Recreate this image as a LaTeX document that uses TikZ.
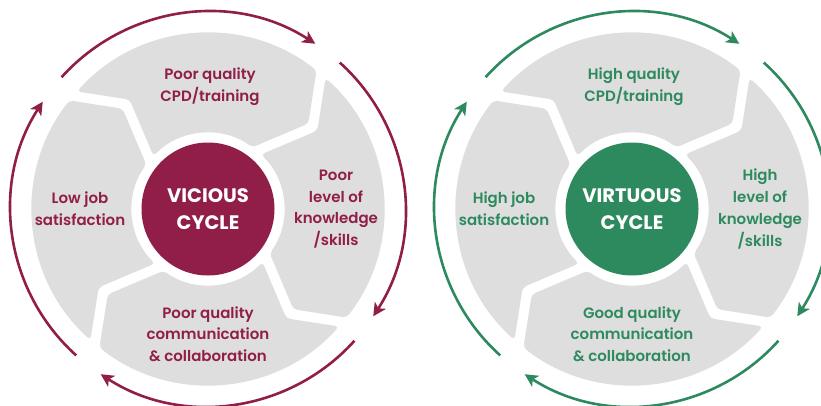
\documentclass[tikz,border=0pt]{standalone}
\usepackage{fontspec}
\setmainfont{Poppins}
\newfontfamily\labelfont{Poppins SemiBold}
\usetikzlibrary{arrows.meta}

\definecolor{vicious}{HTML}{911E48}
\definecolor{virtuous}{HTML}{2D8A5E}
\definecolor{ringgray}{HTML}{DEDEDE}

% One grey chevron of the ring, drawn around the origin.
% #1 = angle of the gap at its counter-clockwise end.
\newcommand\ringpart[1]{%
  \fill[ringgray, rounded corners=4pt]
    ({#1-1.9}:176pt) arc[start angle={#1-1.9}, end angle={#1-88.1}, radius=176pt]
    -- ({#1-99.58}:131.7pt) -- ({#1-85.7}:76pt)
    arc[start angle={#1-85.7}, end angle={#1-4.2}, radius=76pt]
    -- ({#1-14.37}:134.5pt) -- cycle;
}

% One arrow of the outer ring; #1 = start angle.
\newcommand\ringarrow[1]{%
  \draw[cyclearrow] ({#1}:197pt) arc[start angle={#1}, end angle={#1-81}, radius=197pt];
}

\tikzset{
  hub/.style={circle, inner sep=0pt, minimum size=133pt, text=white,
    align=center, font=\bfseries\fontsize{19.5}{26.7}\selectfont},
  lab/.style={align=center, inner sep=0pt, font=\labelfont\fontsize{15}{21.7}\selectfont},
  cyclearrow/.style={line width=2.6pt,
    -{Stealth[length=13pt, width=13pt, inset=3.5pt]}},
}

\begin{document}
\begin{tikzpicture}[x=1pt, y=1pt]
\useasboundingbox (0,0) rectangle (821,405);
\clip (0,0) rectangle (821,405);

% ---------- vicious cycle ----------
\node[hub, fill=vicious] (vc) at (208,196) {VICIOUS\\CYCLE};
\begin{scope}[shift={(vc.center)}]
  \foreach \g in {140,50,-40,-130} {\ringpart{\g}}
  \begin{scope}[vicious]
    \foreach \s in {138,48,-42,-132} {\ringarrow{\s}}
  \end{scope}
  \node[lab, text=vicious] (v1) at (2,122) {Poor quality\\CPD/training};
  \node[lab, text=vicious] (v2) at (128,0) {Poor\\level of\\knowledge\\/skills};
  \node[lab, text=vicious] (v3) at (0,-125) {Poor quality\\communication\\\& collaboration};
  \node[lab, text=vicious] (v4) at (-128,0) {Low job\\satisfaction};
\end{scope}

% ---------- virtuous cycle ----------
\node[hub, fill=virtuous] (gc) at (632,196) {VIRTUOUS\\CYCLE};
\begin{scope}[shift={(gc.center)}]
  \foreach \g in {140,50,-40,-130} {\ringpart{\g}}
  \begin{scope}[virtuous]
    \foreach \s in {138,48,-42,-132} {\ringarrow{\s}}
  \end{scope}
  \node[lab, text=virtuous] (g1) at (2,122) {High quality\\CPD/training};
  \node[lab, text=virtuous] (g2) at (128,0) {High\\level of\\knowledge\\/skills};
  \node[lab, text=virtuous] (g3) at (0,-125) {Good quality\\communication\\\& collaboration};
  \node[lab, text=virtuous] (g4) at (-128,0) {High job\\satisfaction};
\end{scope}
\end{tikzpicture}
\end{document}
